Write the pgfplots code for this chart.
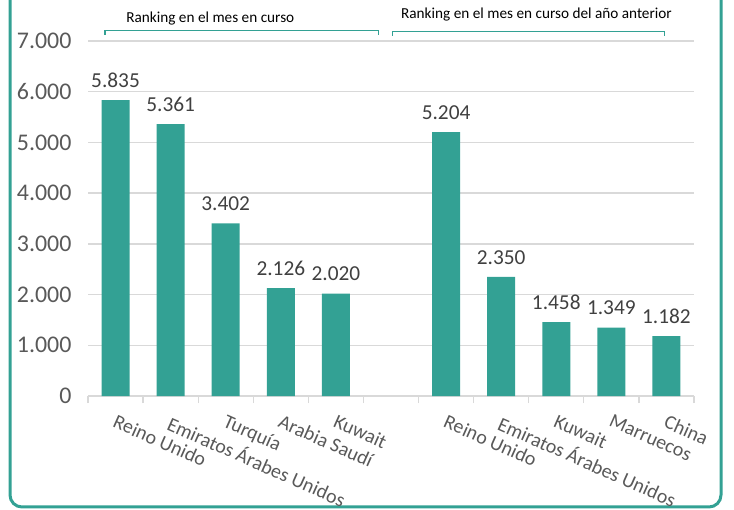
\documentclass[border=0pt]{standalone}
\usepackage{fontspec}
\setmainfont{Carlito}
\usepackage{pgfplots}
\pgfplotsset{compat=1.18}
\definecolor{barteal}{HTML}{33A194}
\definecolor{gridc}{HTML}{D9D9D9}
\definecolor{ticktxt}{HTML}{595959}
\definecolor{valtxt}{HTML}{404040}
\newcommand\labfont{\fontsize{21.4}{24}\selectfont}
\newcommand\yfont{\fontsize{24}{27}\selectfont}
\newcommand\catfont{\fontsize{20}{23}\selectfont}
\newcommand\titfont{\fontsize{15.3}{18}\selectfont}
\pgfplotsset{/pgf/number format/assume math mode=true}

\begin{document}
\begin{tikzpicture}
\useasboundingbox (0,0) rectangle (734bp,510bp);
% outer frame (top lies outside the picture)
\draw[barteal, line width=3bp, rounded corners=12bp]
  (10bp,560bp) -- (10bp,3bp) -- (721bp,3bp) -- (721bp,560bp);
\begin{axis}[
  at={(88bp,114bp)}, anchor=south west,
  scale only axis, width=606bp, height=355bp,
  clip=false,
  ybar, bar width=28bp,
  xmin=-0.5, xmax=10.5, ymin=0, ymax=7000,
  axis x line=bottom, axis y line=left,
  x axis line style={-, draw=gridc, line width=1.3bp},
  y axis line style={draw=none},
  ytick={0,1000,...,7000},
  ytick style={draw=none},
  ymajorgrids, major grid style={draw=gridc, line width=1.3bp},
  xtick={0,1,2,3,4,6,7,8,9,10},
  xticklabels={Reino Unido, Emiratos Árabes Unidos, Turquía, Arabia Saudí, Kuwait,
               Reino Unido, Emiratos Árabes Unidos, Kuwait, Marruecos, China},
  minor xtick={-0.5,0.5,...,10.5},
  major tick length=0pt, minor tick length=7bp, tick align=outside,
  minor x tick style={draw=gridc, line width=1.3bp},
  xtick style={draw=none},
  y tick label style={font=\yfont, text=ticktxt, anchor=east, xshift=-13bp},
  x tick label style={font=\catfont, text=ticktxt, anchor=north west, rotate=-24, inner sep=0pt, xshift=2bp},
  xticklabel shift=17bp,
  /pgf/number format/.cd, fixed, precision=0, 1000 sep={.}, min exponent for 1000 sep=3,
  /pgfplots/.cd,
  nodes near coords,
  every node near coord/.append style={font=\labfont, text=valtxt, yshift=9bp},
]
% mes en curso
\addplot[fill=barteal, draw=none, bar shift=0pt] coordinates {
  (0,5835) (1,5361) (2,3402) (3,2126) (4,2020)
};
% mismo mes del año anterior
\addplot[fill=barteal, draw=none, bar shift=0pt] coordinates {
  (6,5204) (7,2350) (8,1458) (9,1349) (10,1182)
};
\coordinate (a1) at (axis cs:-0.19,7120);
\coordinate (a2) at (axis cs:-0.19,7200);
\coordinate (a3) at (axis cs:4.77,7200);
\coordinate (a4) at (axis cs:4.77,7120);
\coordinate (b1) at (axis cs:5.03,7100);
\coordinate (b2) at (axis cs:5.03,7180);
\coordinate (b3) at (axis cs:9.97,7180);
\coordinate (b4) at (axis cs:9.97,7100);
\coordinate (t1) at (axis cs:1.72,7452);
\coordinate (t2) at (axis cs:7.64,7518);
\end{axis}
% range brackets above the two groups
\draw[draw=barteal, line width=1.2bp] (a1) -- (a2) -- (a3) -- (a4);
\draw[draw=barteal, line width=1.2bp] (b1) -- (b2) -- (b3) -- (b4);
\node[font=\titfont] at (t1) {Ranking en el mes en curso};
\node[font=\titfont] at (t2) {Ranking en el mes en curso del año anterior};
\end{tikzpicture}
\end{document}
